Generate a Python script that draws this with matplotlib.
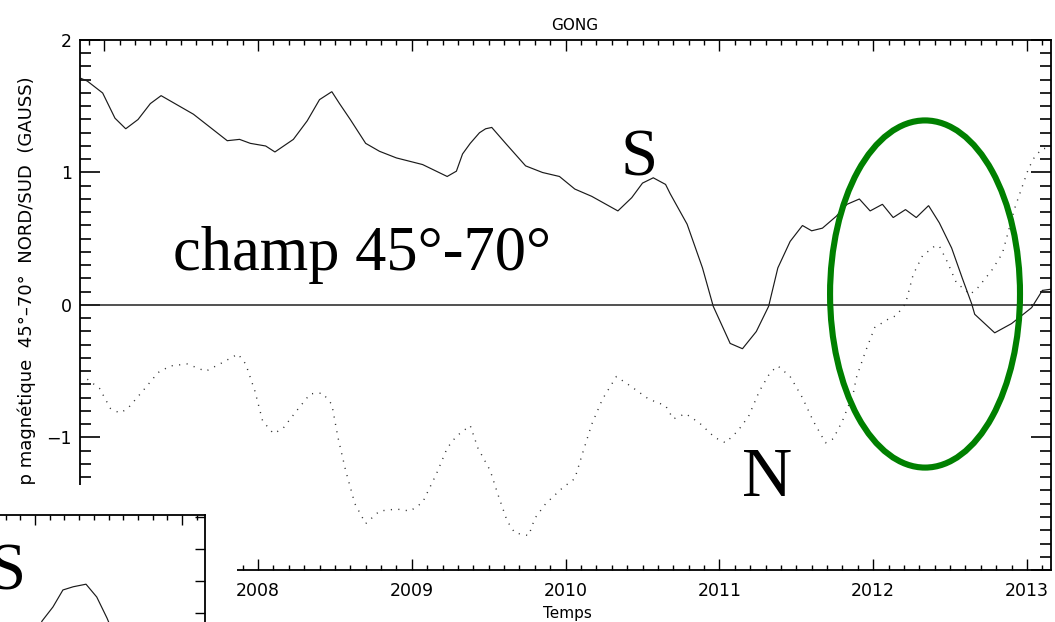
import matplotlib
matplotlib.use("Agg")
import matplotlib.pyplot as plt
from matplotlib.patches import Ellipse, Rectangle
from matplotlib.ticker import MultipleLocator, FuncFormatter

# ---------------- data ----------------
s_years = [2006.85, 2006.89, 2006.99, 2007.07, 2007.14, 2007.22, 2007.30, 2007.37,
           2007.46, 2007.58, 2007.69, 2007.80, 2007.88, 2007.95, 2008.05, 2008.11,
           2008.23, 2008.32, 2008.40, 2008.48, 2008.53, 2008.60, 2008.70, 2008.79,
           2008.90, 2009.07, 2009.23, 2009.29, 2009.33, 2009.38, 2009.44, 2009.48,
           2009.52, 2009.61, 2009.74, 2009.85, 2009.96, 2010.06, 2010.17, 2010.34,
           2010.43, 2010.50, 2010.57, 2010.65, 2010.68, 2010.79, 2010.89, 2010.96,
           2011.07, 2011.15, 2011.24, 2011.32, 2011.38, 2011.46, 2011.54, 2011.60,
           2011.67, 2011.76, 2011.83, 2011.91, 2011.98, 2012.06, 2012.13, 2012.21,
           2012.28, 2012.36, 2012.43, 2012.51, 2012.58, 2012.64, 2012.66, 2012.79,
           2012.90, 2013.03, 2013.10, 2013.16]
s_field = [1.71, 1.69, 1.60, 1.41, 1.33, 1.40, 1.52, 1.58,
           1.52, 1.44, 1.34, 1.24, 1.25, 1.22, 1.20, 1.155,
           1.25, 1.39, 1.55, 1.61, 1.52, 1.40, 1.22, 1.16,
           1.11, 1.06, 0.97, 1.01, 1.14, 1.22, 1.30, 1.33,
           1.34, 1.22, 1.05, 1.00, 0.97, 0.875, 0.82, 0.71,
           0.81, 0.92, 0.96, 0.91, 0.84, 0.61, 0.28, -0.01,
           -0.29, -0.33, -0.20, -0.01, 0.28, 0.48, 0.60, 0.56,
           0.58, 0.67, 0.76, 0.80, 0.71, 0.76, 0.66, 0.72,
           0.66, 0.75, 0.62, 0.43, 0.20, 0.01, -0.07, -0.21,
           -0.14, -0.02, 0.11, 0.12]

n_years = [2006.89, 2006.97, 2007.04, 2007.10, 2007.15, 2007.25, 2007.35, 2007.43,
           2007.54, 2007.66, 2007.76, 2007.87, 2007.92, 2007.98, 2008.03, 2008.10,
           2008.16, 2008.25, 2008.34, 2008.42, 2008.48, 2008.52, 2008.57, 2008.63,
           2008.70, 2008.79, 2008.90, 2008.99, 2009.07, 2009.16, 2009.23, 2009.29,
           2009.38, 2009.43, 2009.51, 2009.56, 2009.62, 2009.67, 2009.76, 2009.80,
           2009.87, 2009.98, 2010.06, 2010.11, 2010.17, 2010.24, 2010.33, 2010.42,
           2010.54, 2010.65, 2010.70, 2010.78, 2010.87, 2010.97, 2011.04, 2011.12,
           2011.19, 2011.26, 2011.33, 2011.38, 2011.46, 2011.54, 2011.61, 2011.69,
           2011.74, 2011.80, 2011.87, 2011.89, 2011.95, 2012.01, 2012.10, 2012.15,
           2012.21, 2012.26, 2012.32, 2012.40, 2012.43, 2012.48, 2012.54, 2012.63,
           2012.68, 2012.77, 2012.84, 2012.92, 2013.01, 2013.05, 2013.10, 2013.16]
n_field = [-0.56, -0.63, -0.78, -0.815, -0.785, -0.65, -0.51, -0.46,
           -0.445, -0.50, -0.44, -0.37, -0.445, -0.65, -0.875, -0.97,
           -0.935, -0.80, -0.67, -0.665, -0.75, -1.00, -1.25, -1.50,
           -1.65, -1.555, -1.54, -1.555, -1.49, -1.275, -1.08, -0.99,
           -0.91, -1.08, -1.25, -1.43, -1.63, -1.72, -1.74, -1.61,
           -1.50, -1.38, -1.31, -1.12, -0.90, -0.71, -0.54, -0.61,
           -0.71, -0.76, -0.86, -0.82, -0.89, -1.00, -1.04, -0.95,
           -0.84, -0.65, -0.51, -0.46, -0.54, -0.70, -0.875, -1.04,
           -1.01, -0.875, -0.67, -0.55, -0.35, -0.17, -0.105, -0.08,
           0.01, 0.23, 0.37, 0.445, 0.445, 0.33, 0.17, 0.08,
           0.13, 0.26, 0.39, 0.73, 1.03, 1.12, 1.18, 1.185]

# partial curve of the second (overlapping) panel, bottom left
inset_x = [0.02, 0.048, 0.122, 0.19, 0.26, 0.347, 0.42, 0.49, 0.53]
inset_y = [-0.27, -0.125, 0.094, 0.36, 0.41, 0.45, 0.25, -0.08, -0.30]

x_ticks_major = 1.0
x_ticks_minor = 0.1
y_ticks_major = 1.0
y_ticks_minor = 0.1

title = "GONG"
xlabel = "Temps"
ylabel = "Champ magnétique  45°–70°  NORD/SUD  (GAUSS)"
big_label = "champ 45°-70°"

# ---------------- figure ----------------
W, H = 1055, 622
fig = plt.figure(figsize=(W / 100, H / 100), dpi=100)
fig.patch.set_facecolor("white")


def fx(px):
    return px / W


def fy(py):
    return 1 - py / H


L, R, T, B = 80, 1051, 40, 570
ax = fig.add_axes([fx(L), fy(B), fx(R) - fx(L), fy(T) - fy(B)])
px_per_year = 153.8
ax.set_xlim(2008 - (258 - L) / px_per_year, 2013 + (R - 1027) / px_per_year)
ax.set_ylim(-2, 2)

ax.plot(s_years, s_field, color="#1a1a1a", lw=0.85, solid_joinstyle="miter")
ax.plot(n_years, n_field, color="#333333", lw=1.0,
        linestyle=(0, (0.8, 4.6)), dash_capstyle="butt")
ax.axhline(0, color="#222222", lw=1.1)

ax.xaxis.set_major_locator(MultipleLocator(x_ticks_major))
ax.xaxis.set_minor_locator(MultipleLocator(x_ticks_minor))
ax.yaxis.set_major_locator(MultipleLocator(y_ticks_major))
ax.yaxis.set_minor_locator(MultipleLocator(y_ticks_minor))
ax.xaxis.set_major_formatter(FuncFormatter(lambda v, p: "%d" % round(v)))
ax.yaxis.set_major_formatter(FuncFormatter(
    lambda v, p: ("%d" % round(v)).replace("-", "\u2212")))

ax.tick_params(axis="x", which="major", direction="in", length=8, width=1.0,
               top=True, bottom=True, labelsize=12.5, pad=9, colors="black")
ax.tick_params(axis="x", which="minor", direction="in", length=3.6, width=1.0,
               top=True, bottom=True)
ax.tick_params(axis="y", which="major", direction="in", length=14.4, width=1.2,
               left=True, right=True, labelsize=12.5, pad=6)
ax.tick_params(axis="y", which="minor", direction="in", length=8, width=1.2,
               left=True, right=True)
for sp in ax.spines.values():
    sp.set_linewidth(1.3)
    sp.set_color("black")

fig.text(fx(575), fy(30), title, ha="center", va="baseline", fontsize=11)
fig.text(fx(567), fy(618), xlabel, ha="center", va="baseline", fontsize=11)
fig.text(fx(27), fy(307), ylabel, ha="center", va="center", rotation=90,
         fontsize=13)

serif = "Liberation Serif"
ax.text(2007.447, 0.264, big_label, fontsize=45, family=serif,
        ha="left", va="baseline")
ax.text(2010.354, 0.974, "S", fontsize=48, family=serif, ha="left",
        va="baseline")
ax.text(2011.147, -1.44, "N", fontsize=50, family=serif, ha="left",
        va="baseline")

ax.add_patch(Ellipse((2012.337, 0.083), width=1.235, height=2.62, fill=False,
                     edgecolor="#008000", lw=4.4, clip_on=False, zorder=4))

# ---------------- overlapping second panel (bottom-left) ----------------
fig.add_artist(Rectangle((0, 0), fx(237), fy(485), transform=fig.transFigure,
                         facecolor="white", edgecolor="none", zorder=5))

ax2 = fig.add_axes([fx(-100), fy(700), fx(205) - fx(-100), fy(515) - fy(700)],
                   zorder=6)
ax2.set_xlim((-100 - 35) / 147, (205 - 35) / 147)
ax2.set_ylim((613 - 700) / 64, (613 - 515) / 64)
ax2.plot(inset_x, inset_y, color="#1a1a1a", lw=0.85)
ax2.xaxis.set_major_locator(MultipleLocator(1.0))
ax2.xaxis.set_minor_locator(MultipleLocator(0.1))
ax2.yaxis.set_major_locator(MultipleLocator(0.5))
ax2.yaxis.set_minor_locator(MultipleLocator(0.5))
ax2.tick_params(axis="x", which="major", direction="in", length=7.2, width=1.0,
                top=True, bottom=False, labeltop=False, labelbottom=False)
ax2.tick_params(axis="x", which="minor", direction="in", length=3.6, width=1.0,
                top=True, bottom=False)
ax2.tick_params(axis="y", which="both", direction="in", length=7.2, width=1.0,
                left=False, right=True, labelleft=False, labelright=False)
for sp in ax2.spines.values():
    sp.set_linewidth(1.3)
ax2.text((26 - 35) / 147, (613 - 590) / 64, "S", fontsize=48, family=serif,
         ha="right", va="baseline")

fig.savefig("out.png", dpi=100, facecolor="white")
